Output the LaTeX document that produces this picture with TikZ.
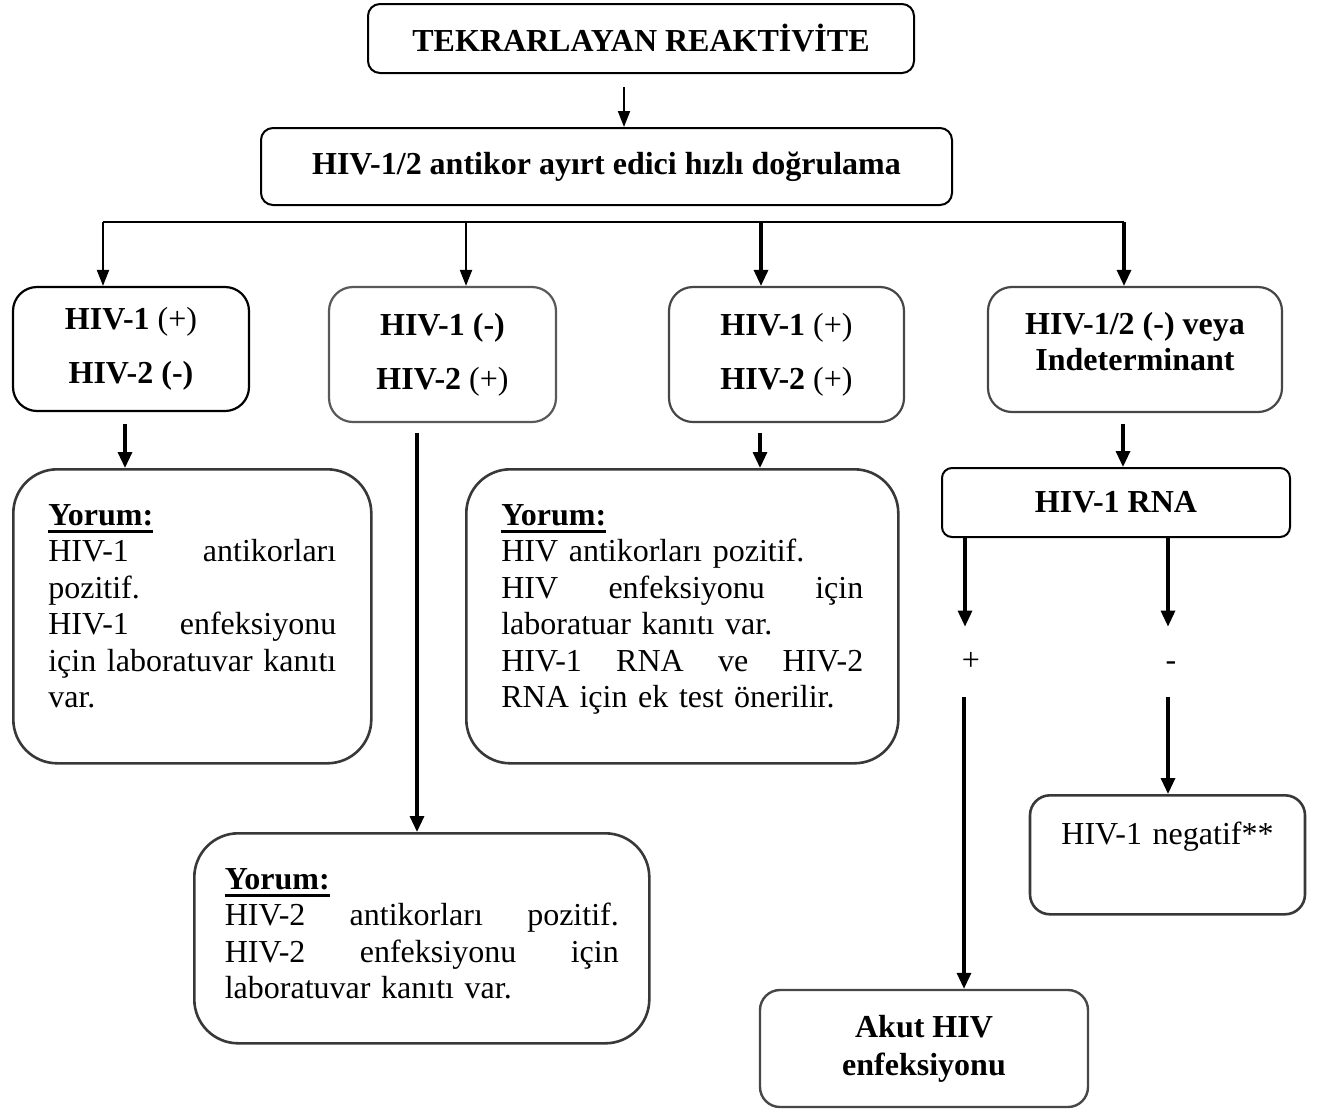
\documentclass[tikz,border=0pt]{standalone}
\usepackage{fontspec}
\setmainfont{Liberation Serif}
\usetikzlibrary{arrows.meta}

% bold heading with a thick underline
\newcommand{\yorumlabel}{{\setbox0=\hbox{\textbf{Yorum:}}%
  \rlap{\rule[-3.6pt]{\wd0}{1.5pt}}\box0}}

\begin{document}
\begin{tikzpicture}[x=0.5pt, y=-0.5pt,
    font=\fontsize{16}{18.25}\selectfont,
    flowbox/.style={draw=black, line width=1pt, rounded corners=6pt,
      align=center, inner sep=0pt},
    testbox/.style={draw=black!72, line width=1.1pt, rounded corners=12pt,
      align=center, inner sep=0pt},
    notebox/.style={draw=black!78, line width=1.3pt, rounded corners=22pt,
      align=left, anchor=north west, inner ysep=0pt},
    signnode/.style={inner sep=0pt, minimum width=10pt, minimum height=35pt,
      text height=8pt, text depth=0pt},
    arr/.style={-{Triangle[width=6pt,length=8pt]}, line width=1pt},
    arrthick/.style={-{Triangle[width=7pt,length=8pt]}, line width=1.6pt}]

  \useasboundingbox (0,0) rectangle (1322,1109);

  % --- Top ---
  \node[flowbox, minimum width=273pt, minimum height=34.5pt] (tekrar) at (641,38.5)
    {\textbf{TEKRARLAYAN REAKTİVİTE}};
  \node[flowbox, minimum width=345.5pt, minimum height=38.5pt] (ayirt) at (606.5,166.5)
    {\textbf{HIV-1/2 antikor ayırt edici hızlı doğrulama}};
  \draw[arr] ([xshift=-8.5pt,yshift=-6.5pt]tekrar.south)
    -- ([xshift=-8.5pt]tekrar.south |- ayirt.north);

  % --- Test results ---
  \node[testbox, draw=black, minimum width=118pt, minimum height=62pt] (hivA) at (131,349)
    {\textbf{HIV-1} (+)\\[8.75pt]\textbf{HIV-2 (-)}};
  \node[testbox, draw=black!65, minimum width=113.5pt, minimum height=67.5pt] (hivB) at (442.5,354.5)
    {\textbf{HIV-1 (-)}\\[8.75pt]\textbf{HIV-2} (+)};
  \node[testbox, minimum width=117.5pt, minimum height=67.5pt] (hivC) at (786.5,354.5)
    {\textbf{HIV-1} (+)\\[8.75pt]\textbf{HIV-2} (+)};
  \node[testbox, minimum width=147pt, minimum height=62.5pt, text depth=8pt] (hivD) at (1135,349.5)
    {\textbf{HIV-1/2 (-) veya}\\\textbf{Indeterminant}};

  \coordinate (bA) at (103,222);
  \coordinate (bB) at (466,222);
  \coordinate (bC) at (761,222);
  \coordinate (bD) at (1124,222);
  \draw[line width=1pt] (bA) -- (bD);
  \draw[arr] (bA) -- (bA |- hivA.north);
  \draw[arr] (bB) -- (bB |- hivB.north);
  \draw[arrthick] (bC) -- (bC |- hivC.north);
  \draw[arrthick] (bD) -- (bD |- hivD.north);

  % --- Comments ---
  \node[notebox, inner xsep=17.5pt, text width=144pt, text height=28pt, text depth=119pt]
    (yorumA) at (12,468)
    {\yorumlabel\\
     HIV-1\hfill antikorları\\
     pozitif.\\
     HIV-1\hfill enfeksiyonu\\
     için\hfill laboratuvar\hfill kanıtı\\
     var.};
  \node[notebox, inner xsep=17.5pt, text width=181pt, text height=28pt, text depth=119pt]
    (yorumC) at (465,468)
    {\yorumlabel\\
     HIV antikorları pozitif.\\
     HIV\hfill enfeksiyonu\hfill için\\
     laboratuar kanıtı var.\\
     HIV-1\hfill RNA\hfill ve\hfill HIV-2\\
     RNA için ek test önerilir.};
  \node[notebox, inner xsep=15.25pt, text width=197pt, text height=28pt, text depth=77pt]
    (yorumB) at (193,832)
    {\yorumlabel\\
     HIV-2\hfill antikorları\hfill pozitif.\\
     HIV-2\hfill enfeksiyonu\hfill için\\
     laboratuvar kanıtı var.};

  \draw[arrthick] ([xshift=-3pt,yshift=-6pt]hivA.south) -- ([xshift=-3pt]hivA.south |- yorumA.north);
  \draw[arrthick] ([xshift=-12.75pt,yshift=-5pt]hivB.south) -- ([xshift=-12.75pt]hivB.south |- yorumB.north);
  \draw[arrthick] ([xshift=-13.25pt,yshift=-5pt]hivC.south) -- ([xshift=-13.25pt]hivC.south |- yorumC.north);

  % --- HIV-1 RNA branch ---
  \node[flowbox, rounded corners=5pt, minimum width=174pt, minimum height=34.5pt] (rna) at (1116,502.5)
    {\textbf{HIV-1 RNA}};
  \draw[arrthick] ([xshift=-6pt,yshift=-5.5pt]hivD.south) -- ([xshift=-6pt]hivD.south |- rna.north);

  \node[signnode] (pos) at (971,662) {+};
  \node[signnode] (neg) at (1171,662) {-};

  \node[notebox, anchor=north, rounded corners=10pt, inner xsep=0pt, align=center,
    text width=137.5pt, text height=24.5pt, text depth=35pt] (negatif) at (1167.5,794)
    {HIV-1 negatif**};
  \node[testbox, rounded corners=10pt, line width=1.2pt, minimum width=164pt, minimum height=58.5pt]
    (akut) at (924,1048.5)
    {\textbf{Akut HIV}\\[0.75pt]\textbf{enfeksiyonu}};

  \draw[arrthick] ([xshift=-3pt]pos.north |- rna.south) -- ([xshift=-3pt]pos.north);
  \draw[arrthick] ([xshift=-1.5pt]neg.north |- rna.south) -- ([xshift=-1.5pt]neg.north);
  \draw[arrthick] ([xshift=-3.5pt]pos.south) -- ([xshift=-3.5pt]pos.south |- akut.north);
  \draw[arrthick] ([xshift=-1.5pt]neg.south) -- ([xshift=-1.5pt]neg.south |- negatif.north);
\end{tikzpicture}
\end{document}
